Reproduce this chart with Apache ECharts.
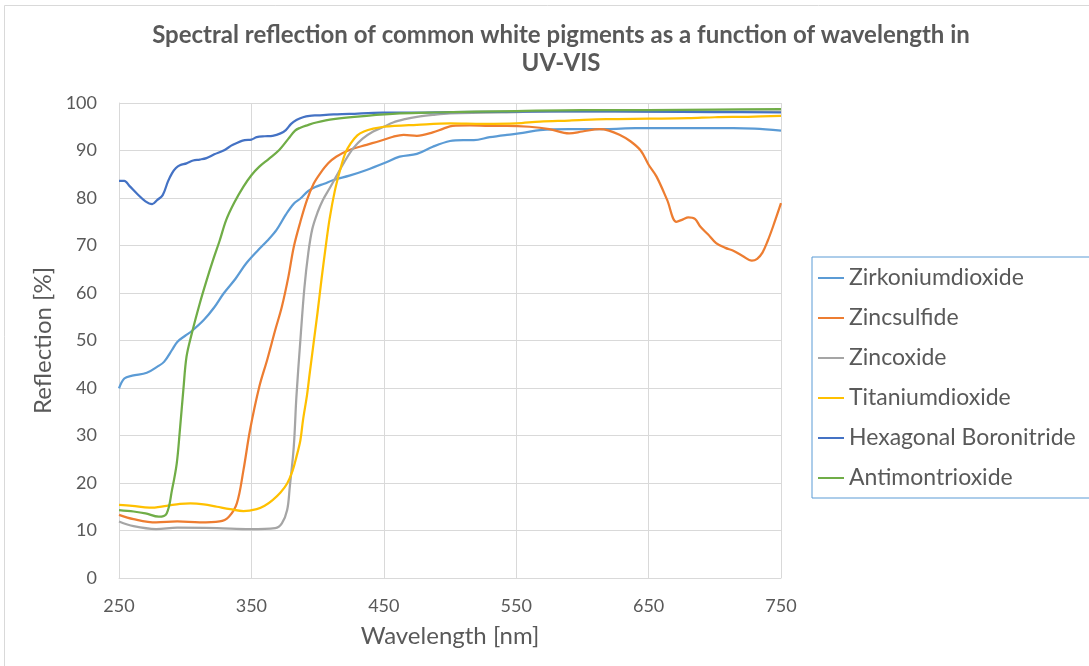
<!DOCTYPE html>
<html>
<head>
<meta charset="utf-8">
<script src="https://cdn.jsdelivr.net/npm/echarts@6/dist/echarts.min.js"></script>
<style>
  html, body { margin: 0; padding: 0; background: #ffffff; }
  #chart { width: 1089px; height: 666px; }
</style>
</head>
<body>
<div id="chart"></div>
<script>
// Spectral reflection [%] of white pigments versus wavelength [nm]
const seriesNames = ['Zirkoniumdioxide', 'Zincsulfide', 'Zincoxide', 'Titaniumdioxide', 'Hexagonal Boronitride', 'Antimontrioxide'];
const seriesColors = ['#5B9BD5', '#ED7D31', '#A5A5A5', '#FFC000', '#4472C4', '#70AD47'];

const xTicks = [250, 350, 450, 550, 650, 750];
const yTicks = [0, 10, 20, 30, 40, 50, 60, 70, 80, 90, 100];

const zrWl = [250, 254, 260, 271, 279, 284, 290, 294, 300, 305, 314, 322, 329, 338, 346, 355, 362, 369, 376, 382, 387, 393, 399, 405, 412, 424, 437, 450, 462, 475, 487, 500, 510, 518, 530, 543, 555, 568, 590, 618, 640, 668, 690, 714, 730, 750];
const zrR  = [39.9, 42.0, 42.6, 43.2, 44.5, 45.5, 48.0, 49.7, 51.0, 52.0, 54.3, 57.0, 59.9, 63.0, 66.2, 69.0, 71.0, 73.3, 76.5, 78.8, 79.9, 81.5, 82.4, 83.0, 83.8, 84.7, 85.9, 87.3, 88.7, 89.3, 90.8, 92.0, 92.2, 92.2, 92.8, 93.3, 93.7, 94.3, 94.5, 94.5, 94.7, 94.7, 94.7, 94.7, 94.6, 94.2];

const znsWl = [250, 261, 278, 294, 311, 326, 333, 339, 344, 349, 356, 362, 368, 373, 378, 382, 387, 392, 397, 402, 408, 414, 425, 437, 447, 457, 465, 475, 487, 495, 502, 515, 530, 543, 560, 575, 590, 600, 613, 620, 628, 636, 644, 650, 656, 664, 671, 676, 680, 685, 689, 695, 701, 708, 714, 721, 728, 732, 736, 740, 744, 750];
const znsR  = [13.3, 12.4, 11.7, 11.9, 11.7, 11.9, 12.9, 15.7, 22.7, 31.2, 40.3, 46.0, 52.2, 57.1, 63.5, 69.7, 75.0, 79.6, 83.0, 85.2, 87.3, 88.7, 90.2, 91.2, 92.0, 92.9, 93.3, 93.1, 93.8, 94.6, 95.2, 95.3, 95.2, 95.2, 95.0, 94.5, 93.6, 94.0, 94.5, 94.2, 93.3, 92.0, 90.0, 87.0, 84.5, 79.6, 75.0, 75.5, 75.9, 75.6, 74.0, 72.3, 70.5, 69.5, 68.9, 67.8, 66.8, 67.2, 68.5, 71.0, 74.0, 78.9];

const znoWl = [250, 261, 278, 294, 324, 349, 368, 373, 377, 379, 382, 384, 387, 390, 393, 396, 400, 404, 409, 414, 420, 427, 434, 442, 450, 457, 466, 475, 487, 500, 550, 600, 650, 700, 750];
const znoR  = [11.9, 10.9, 10.3, 10.6, 10.5, 10.3, 10.5, 11.5, 14.3, 19.2, 27.6, 38.2, 50.1, 61.0, 68.5, 73.5, 77.0, 79.6, 82.0, 84.5, 87.5, 90.5, 92.5, 94.0, 95.0, 95.9, 96.6, 97.1, 97.5, 97.8, 98.1, 98.3, 98.2, 98.2, 98.2];

const tioWl = [250, 260, 273, 286, 296, 304, 314, 324, 334, 344, 354, 360, 366, 372, 377, 381, 384, 387, 389, 392, 394, 397, 400, 403, 406, 409, 413, 417, 421, 425, 430, 435, 442, 450, 475, 500, 525, 550, 568, 590, 618, 650, 680, 700, 725, 750];
const tioR  = [15.4, 15.2, 14.8, 15.2, 15.6, 15.7, 15.5, 15.0, 14.5, 14.1, 14.5, 15.2, 16.4, 18.0, 19.9, 22.5, 25.5, 29.0, 33.3, 38.5, 43.0, 49.5, 56.0, 63.0, 69.5, 75.5, 81.5, 85.9, 89.5, 91.5, 93.2, 94.0, 94.6, 95.0, 95.4, 95.7, 95.6, 95.7, 96.1, 96.3, 96.6, 96.7, 96.8, 97.0, 97.1, 97.3];

const hbnWl = [250, 254, 258, 264, 270, 275, 279, 283, 287, 290, 293, 296, 301, 306, 311, 316, 322, 329, 336, 345, 350, 354, 360, 366, 372, 376, 380, 384, 389, 394, 400, 412, 424, 449, 475, 500, 550, 600, 650, 700, 750];
const hbnR  = [83.6, 83.6, 82.5, 80.8, 79.3, 78.7, 79.6, 80.6, 83.5, 85.2, 86.3, 86.9, 87.3, 87.9, 88.1, 88.4, 89.2, 90.0, 91.2, 92.2, 92.3, 92.8, 93.0, 93.1, 93.6, 94.3, 95.6, 96.4, 97.0, 97.3, 97.4, 97.6, 97.7, 98.0, 98.0, 98.1, 98.2, 98.3, 98.2, 98.1, 98.0];

const sboWl = [250, 261, 270, 280, 286, 290, 293.6, 296, 298.6, 301, 305, 311, 316, 321, 326, 331, 337, 344, 350, 356, 363, 371, 378, 383, 387, 392, 399, 412, 437, 462, 487, 550, 600, 650, 700, 750];
const sboR  = [14.3, 14.0, 13.6, 12.9, 13.6, 18.5, 24.1, 31.2, 39.6, 46.6, 51.5, 57.8, 62.5, 66.9, 71.0, 75.4, 79.0, 82.4, 84.8, 86.6, 88.2, 90.1, 92.5, 94.2, 94.8, 95.3, 95.9, 96.6, 97.3, 97.8, 98.0, 98.3, 98.5, 98.5, 98.6, 98.7];

const wavelengths = [zrWl, znsWl, znoWl, tioWl, hbnWl, sboWl];
const reflections = [zrR, znsR, znoR, tioR, hbnR, sboR];

const textColor = '#595959';
const gridColor = '#D9D9D9';
const fontFamily = 'Lato, "Open Sans", sans-serif';

function pairs(xs, ys) {
  return xs.map((x, i) => [x, ys[i]]);
}

const chart = echarts.init(document.getElementById('chart'), null, { renderer: 'canvas' });

chart.setOption({
  animation: false,
  backgroundColor: '#ffffff',
  title: {
    text: 'Spectral reflection of common white pigments as a function of wavelength in\nUV-VIS',
    left: 556,
    textAlign: 'center',
    top: 16,
    textStyle: {
      fontFamily: fontFamily,
      fontWeight: 'bold',
      fontSize: 24,
      lineHeight: 28,
      color: textColor
    }
  },
  graphic: [{
    type: 'rect',
    shape: { x: 4.5, y: 5.5, width: 1200, height: 800 },
    style: { fill: 'none', stroke: gridColor, lineWidth: 1 },
    silent: true,
    z: -1
  }],
  legend: {
    orient: 'vertical',
    left: 812,
    top: 257,
    padding: [9, 30, 8, 6],
    itemGap: 16,
    itemWidth: 26,
    itemHeight: 24,
    borderColor: '#5B9BD5',
    borderWidth: 1,
    icon: 'path://M0,11 L26,11 L26,13 L0,13 Z',
    textStyle: { fontFamily: fontFamily, fontSize: 23, lineHeight: 24, color: textColor, padding: [0, 0, 0, 0] },
    data: seriesNames
  },
  grid: { left: 119, right: 308, top: 103, bottom: 88, containLabel: false },
  xAxis: {
    type: 'value',
    min: xTicks[0],
    max: xTicks[xTicks.length - 1],
    interval: xTicks[1] - xTicks[0],
    name: 'Wavelength [nm]',
    nameLocation: 'middle',
    nameGap: 46,
    nameTextStyle: { fontFamily: fontFamily, fontSize: 24, color: textColor },
    axisLine: { show: true, lineStyle: { color: gridColor, width: 1 } },
    axisTick: { show: false },
    axisLabel: { margin: 19, fontFamily: fontFamily, fontSize: 18, color: textColor },
    splitLine: { show: true, lineStyle: { color: gridColor, width: 1 } }
  },
  yAxis: {
    type: 'value',
    min: yTicks[0],
    max: yTicks[yTicks.length - 1],
    interval: yTicks[1] - yTicks[0],
    name: 'Reflection [%]',
    nameLocation: 'middle',
    nameGap: 63,
    nameTextStyle: { fontFamily: fontFamily, fontSize: 24, color: textColor },
    axisLine: { show: true, lineStyle: { color: gridColor, width: 1 } },
    axisTick: { show: false },
    axisLabel: { margin: 22, fontFamily: fontFamily, fontSize: 18, color: textColor },
    splitLine: { show: true, lineStyle: { color: gridColor, width: 1 } }
  },
  series: seriesNames.map((name, i) => ({
    name: name,
    type: 'line',
    data: pairs(wavelengths[i], reflections[i]),
    smooth: 0.35,
    showSymbol: false,
    symbol: 'none',
    lineStyle: { color: seriesColors[i], width: 2.25 },
    itemStyle: { color: seriesColors[i] }
  }))
});
</script>
</body>
</html>
